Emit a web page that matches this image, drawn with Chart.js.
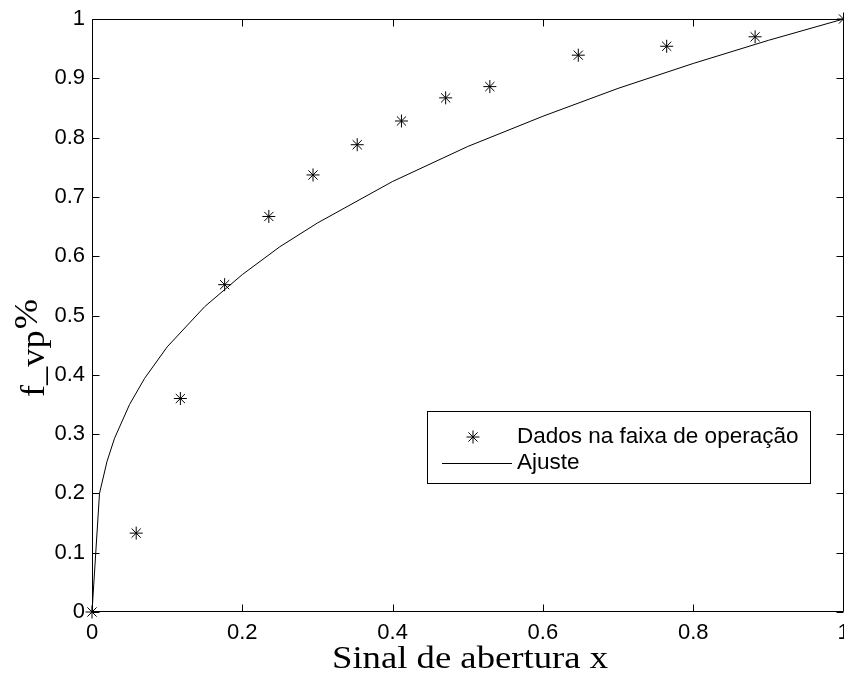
<!DOCTYPE html>
<html>
<head>
<meta charset="utf-8">
<script src="https://cdn.jsdelivr.net/npm/chart.js@4.4.1/dist/chart.umd.min.js"></script>
<style>
  html, body { margin: 0; padding: 0; background: #fff; overflow: hidden; }
  #wrap { width: 844px; height: 675px; overflow: hidden; }
</style>
</head>
<body>
<div id="wrap"><canvas id="c" width="851" height="675"></canvas></div>
<script>
// Measured operating-range data (opening signal vs. f_vp)
const dataX = [0, 0.0588, 0.1176, 0.1765, 0.2353, 0.2941, 0.3529, 0.4118, 0.4706, 0.5294, 0.6471, 0.7647, 0.8824, 1.0];
const dataY = [0, 0.133, 0.360, 0.552, 0.667, 0.737, 0.788, 0.828, 0.867, 0.886, 0.939, 0.954, 0.970, 1.0];

// Fitted curve, sampled along x
const fitX = [0, 0.01, 0.02, 0.03, 0.05, 0.07, 0.10, 0.15, 0.20, 0.25, 0.30, 0.40, 0.50, 0.60, 0.70, 0.80, 0.90, 1.00];
const fitY = [0, 0.200, 0.254, 0.293, 0.350, 0.394, 0.447, 0.515, 0.569, 0.616, 0.656, 0.726, 0.785, 0.836, 0.883, 0.925, 0.964, 1.000];

// Axis ticks
const xTicks = [0, 0.2, 0.4, 0.6, 0.8, 1];
const yTicks = [0, 0.1, 0.2, 0.3, 0.4, 0.5, 0.6, 0.7, 0.8, 0.9, 1];

const seriesLabels = ['Dados na faixa de operação', 'Ajuste'];
const xTitle = 'Sinal de abertura x';

const tickFont = { family: 'Liberation Sans, Arial, sans-serif', size: 22 };

function fmt(v) {
  return String(Math.round(v * 10) / 10);
}

const boxPlugin = {
  id: 'matlabBox',
  afterDraw(chart) {
    const ctx = chart.ctx;
    const a = chart.chartArea;
    const xs = chart.scales.x, ys = chart.scales.y;
    ctx.save();
    ctx.strokeStyle = '#000';
    ctx.lineWidth = 1;
    // frame
    const L = Math.round(a.left) + 0.5, R = Math.round(a.right) - 0.5;
    const T = Math.round(a.top) + 0.5, B = Math.round(a.bottom) - 0.5;
    ctx.beginPath();
    ctx.rect(L, T, R - L, B - T);
    ctx.stroke();
    // inward ticks on all four sides
    const tl = 7;
    ctx.beginPath();
    xTicks.forEach(v => {
      const px = Math.round(xs.getPixelForValue(v)) + 0.5;
      ctx.moveTo(px, B); ctx.lineTo(px, B - tl);
      ctx.moveTo(px, T); ctx.lineTo(px, T + tl);
    });
    yTicks.forEach(v => {
      const py = Math.round(ys.getPixelForValue(v)) + 0.5;
      ctx.moveTo(L, py); ctx.lineTo(L + tl, py);
      ctx.moveTo(R, py); ctx.lineTo(R - tl, py);
    });
    ctx.stroke();

    // legend
    const lx0 = 427.5, ly0 = 411.5, lx1 = 810.5, ly1 = 483.5;
    ctx.fillStyle = '#fff';
    ctx.fillRect(lx0, ly0, lx1 - lx0, ly1 - ly0);
    ctx.strokeRect(lx0, ly0, lx1 - lx0, ly1 - ly0);
    ctx.font = '22.5px "Liberation Sans", Arial, sans-serif';
    ctx.fillStyle = '#000';
    ctx.textBaseline = 'middle';
    ctx.textAlign = 'left';
    // star marker sample
    const sx = 473, sy = 437, r = 6.5;
    ctx.beginPath();
    for (let k = 0; k < 4; k++) {
      const ang = k * Math.PI / 4;
      ctx.moveTo(sx + r * Math.cos(ang), sy + r * Math.sin(ang));
      ctx.lineTo(sx - r * Math.cos(ang), sy - r * Math.sin(ang));
    }
    ctx.stroke();
    ctx.fillText(chart.data.datasets[0].label, 517, 437);
    // line sample
    ctx.beginPath();
    ctx.moveTo(442, 463.5); ctx.lineTo(512, 463.5);
    ctx.stroke();
    ctx.fillText(chart.data.datasets[1].label, 517, 463);

    // x axis title (serif, widened)
    ctx.font = '31px "Liberation Serif", "Times New Roman", serif';
    ctx.textAlign = 'left';
    ctx.textBaseline = 'alphabetic';
    const w0 = ctx.measureText(xTitle).width;
    const targetW = 276;
    ctx.save();
    ctx.translate(332, 668);
    ctx.scale(targetW / w0, 1);
    ctx.fillText(xTitle, 0, 0);
    ctx.restore();

    // y axis title, rotated
    ctx.save();
    ctx.translate(44, 397);
    ctx.rotate(-Math.PI / 2);
    ctx.font = '33px "Liberation Serif", "Times New Roman", serif';
    ctx.scale(1.1, 1);
    ctx.fillText('f_vp', 0, 0);
    const wf = ctx.measureText('f_vp').width;
    ctx.fillText('%', wf + 1, -7);
    ctx.restore();

    ctx.restore();
  }
};

const chart = new Chart(document.getElementById('c'), {
  type: 'scatter',
  data: {
    datasets: [
      {
        label: seriesLabels[0],
        data: dataX.map((x, i) => ({ x: x, y: dataY[i] })),
        showLine: false,
        pointStyle: 'star',
        pointRadius: 6.5,
        pointBorderWidth: 1,
        borderColor: '#000',
        backgroundColor: '#000',
        clip: false
      },
      {
        label: seriesLabels[1],
        data: fitX.map((x, i) => ({ x: x, y: fitY[i] })),
        showLine: true,
        pointRadius: 0,
        borderColor: '#000',
        borderWidth: 1,
        tension: 0,
        clip: false
      }
    ]
  },
  options: {
    responsive: false,
    animation: false,
    devicePixelRatio: 1,
    layout: { padding: { top: 19, right: 1, left: 0, bottom: 0 } },
    plugins: {
      legend: { display: false },
      tooltip: { enabled: false }
    },
    scales: {
      x: {
        type: 'linear',
        min: 0, max: 1,
        afterBuildTicks(scale) { scale.ticks = xTicks.map(v => ({ value: v })); },
        afterFit(scale) {
          scale.height = 63;
          scale.paddingLeft = 0;
          scale.paddingRight = 0;
        },
        ticks: {
          color: '#000',
          font: tickFont,
          padding: 8,
          maxRotation: 0,
          autoSkip: false,
          callback: v => fmt(v)
        },
        grid: { display: false, drawTicks: false },
        border: { display: false }
      },
      y: {
        type: 'linear',
        min: 0, max: 1,
        afterBuildTicks(scale) { scale.ticks = yTicks.map(v => ({ value: v })); },
        afterFit(scale) {
          scale.width = 92;
          scale.paddingTop = 0;
          scale.paddingBottom = 0;
        },
        ticks: {
          color: '#000',
          font: tickFont,
          padding: 7,
          autoSkip: false,
          callback: v => fmt(v)
        },
        grid: { display: false, drawTicks: false },
        border: { display: false }
      }
    }
  },
  plugins: [boxPlugin]
});
</script>
</body>
</html>
